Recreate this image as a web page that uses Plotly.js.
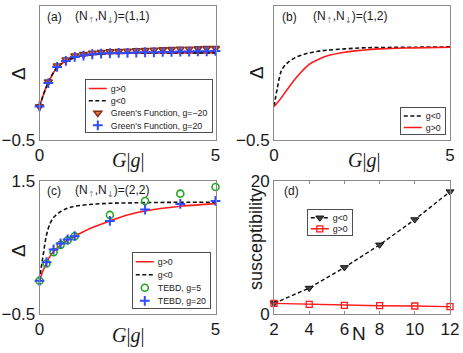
<!DOCTYPE html>
<html>
<head>
<meta charset="utf-8">
<script src="https://cdn.plot.ly/plotly-3.0.1.min.js"></script>
<style>
  html, body { margin: 0; padding: 0; background: #fff; }
  #chart { width: 463px; height: 353px; }
</style>
</head>
<body>
<div id="chart"></div>
<script>
// ---- panel (a): (N_up, N_down) = (1,1) ----
const gLineA = [0, 0.1, 0.2, 0.3, 0.4, 0.5, 0.6, 0.8, 1, 1.25, 1.5, 2, 2.5, 3, 4, 5];
const deltaA = [0, 0.16, 0.30, 0.41, 0.51, 0.58, 0.63, 0.69, 0.73, 0.76, 0.775, 0.79, 0.795, 0.80, 0.80, 0.80];
const gGreen = [0, 0.25, 0.5, 0.75, 1, 1.25, 1.5, 1.75, 2, 2.25, 2.5, 2.75, 3, 3.25, 3.5, 3.75, 4, 4.25, 4.5, 4.75, 5];
const greenNeg20 = [0, 0.37, 0.61, 0.70, 0.76, 0.78, 0.80, 0.81, 0.82, 0.825, 0.83, 0.835, 0.84, 0.845, 0.85, 0.855, 0.86, 0.86, 0.865, 0.87, 0.87];
const greenPos20 = [0, 0.35, 0.59, 0.68, 0.74, 0.76, 0.78, 0.79, 0.795, 0.80, 0.80, 0.805, 0.81, 0.81, 0.815, 0.815, 0.82, 0.82, 0.825, 0.825, 0.83];

// ---- panel (b): (1,2) ----
const gLineB = [0, 0.1, 0.2, 0.3, 0.4, 0.6, 0.8, 1, 1.25, 1.5, 2, 2.5, 3, 4, 5];
const deltaBneg = [0, 0.29, 0.52, 0.61, 0.66, 0.73, 0.77, 0.80, 0.825, 0.84, 0.86, 0.875, 0.88, 0.885, 0.89];
const deltaBpos = [0, 0.06, 0.125, 0.20, 0.27, 0.41, 0.53, 0.63, 0.70, 0.755, 0.81, 0.84, 0.86, 0.875, 0.885];

// ---- panel (c): (2,2) ----
const gLineC = [0, 0.05, 0.1, 0.2, 0.3, 0.4, 0.6, 0.8, 1, 1.5, 2, 2.5, 3, 4, 5];
const deltaCneg = [0, 0.20, 0.37, 0.69, 0.86, 0.95, 1.04, 1.09, 1.12, 1.15, 1.165, 1.17, 1.175, 1.18, 1.18];
const deltaCpos = [0, 0.08, 0.15, 0.27, 0.37, 0.44, 0.54, 0.61, 0.67, 0.80, 0.90, 0.99, 1.05, 1.12, 1.16];
const gTebd = [0, 0.2, 0.4, 0.6, 0.8, 1, 2, 3, 4, 5];
const tebd5 = [0, 0.26, 0.43, 0.54, 0.61, 0.67, 0.99, 1.20, 1.31, 1.41];
const tebd20 = [0, 0.28, 0.47, 0.56, 0.62, 0.67, 0.90, 1.07, 1.155, 1.20];

// ---- panel (d): susceptibility vs N ----
const nVals = [2, 4, 6, 8, 10, 12];
const suscNeg = [1.6, 3.9, 7.0, 10.4, 14.2, 18.4];
const suscPos = [1.6, 1.45, 1.3, 1.25, 1.2, 1.1];

const RED = '#ff1a1a';
const BLACK = '#111111';
const FRAME = '#8a8a8a';
const dash = '4px,2.5px';

function redLine(x, y, xa, ya, leg) {
    return { x: x, y: y, xaxis: xa, yaxis: ya, legend: leg, type: 'scatter', mode: 'lines',
        line: { color: RED, width: 1.6, shape: 'spline' }, name: 'g>0', cliponaxis: false };
}
function dashLine(x, y, xa, ya, leg) {
    return { x: x, y: y, xaxis: xa, yaxis: ya, legend: leg, type: 'scatter', mode: 'lines',
        line: { color: BLACK, width: 1.6, dash: dash, shape: 'spline' }, name: 'g<0', cliponaxis: false };
}

const traces = [
    // (a)
    redLine(gLineA, deltaA, 'x', 'y', 'legend'),
    dashLine(gLineA, deltaA, 'x', 'y', 'legend'),
    { x: gGreen, y: greenNeg20, xaxis: 'x', yaxis: 'y', legend: 'legend', type: 'scatter', mode: 'markers',
      name: "Green's Function, g=\u221220", cliponaxis: false,
      marker: { symbol: 'triangle-down', size: 7, color: '#e07a45', line: { color: '#8b2a12', width: 1.4 } } },
    { x: gGreen, y: greenPos20, xaxis: 'x', yaxis: 'y', legend: 'legend', type: 'scatter', mode: 'markers',
      name: "Green's Function, g=20", cliponaxis: false,
      marker: { symbol: 'cross-thin', size: 7, line: { color: '#2f4bff', width: 2 } } },
    // (b)
    dashLine(gLineB, deltaBneg, 'x2', 'y2', 'legend2'),
    redLine(gLineB, deltaBpos, 'x2', 'y2', 'legend2'),
    // (c)
    redLine(gLineC, deltaCpos, 'x3', 'y3', 'legend3'),
    dashLine(gLineC, deltaCneg, 'x3', 'y3', 'legend3'),
    { x: gTebd, y: tebd5, xaxis: 'x3', yaxis: 'y3', legend: 'legend3', type: 'scatter', mode: 'markers',
      name: 'TEBD, g=5', cliponaxis: false,
      marker: { symbol: 'circle-open', size: 7, color: '#22a822', line: { width: 1.6 } } },
    { x: gTebd, y: tebd20, xaxis: 'x3', yaxis: 'y3', legend: 'legend3', type: 'scatter', mode: 'markers',
      name: 'TEBD, g=20', cliponaxis: false,
      marker: { symbol: 'cross-thin', size: 7, line: { color: '#2f4bff', width: 2 } } },
    // (d)
    { x: nVals, y: suscNeg, xaxis: 'x4', yaxis: 'y4', legend: 'legend4', type: 'scatter', mode: 'lines+markers',
      name: 'g<0', cliponaxis: false,
      line: { color: BLACK, width: 1.4, dash: dash },
      marker: { symbol: 'triangle-down', size: 7, color: '#444', line: { color: BLACK, width: 1 } } },
    { x: nVals, y: suscPos, xaxis: 'x4', yaxis: 'y4', legend: 'legend4', type: 'scatter', mode: 'lines+markers',
      name: 'g>0', cliponaxis: false,
      line: { color: RED, width: 1.4 },
      marker: { symbol: 'square-open', size: 6, color: RED, line: { width: 1.3 } } }
];

const W = 463, H = 353;
const px = v => v / W;
const py = v => 1 - v / H;

const tickFont = { family: 'Liberation Sans, Arial, sans-serif', size: 17, color: '#1a1a1a' };

function axis(dom, vals, range, anchor) {
    return {
        domain: dom, range: range, tickvals: vals, anchor: anchor,
        showline: true, mirror: 'ticks', linecolor: FRAME, linewidth: 1,
        ticks: 'inside', ticklen: 3, tickcolor: FRAME,
        showgrid: false, zeroline: false, tickfont: tickFont, fixedrange: true
    };
}

const xLeft = [px(39.5), px(215.5)];
const xRight = [px(274), px(450)];
const yTop = [py(140), py(6)];
const yBot = [py(314), py(181)];

const LEG_BW = 0.8;
const legendBase = {
    bgcolor: '#ffffff', bordercolor: '#222', borderwidth: LEG_BW,
    font: { family: 'Liberation Sans, Arial, sans-serif', size: 8.8, color: '#222' },
    itemwidth: 30, tracegroupgap: 0, xanchor: 'left', yanchor: 'top'
};

const arrowStyle = c => "<sub><span style='color:" + c + ";font-family:DejaVu Sans'>";
const nLabel = pair => '(N' + arrowStyle('#9a9a9a') + '\u2191</span></sub>,N' +
    arrowStyle('#6a6a6a') + '\u2193</span></sub>)=' + pair;

const labelFont = { family: 'Liberation Sans, Arial, sans-serif', size: 12, color: '#1a1a1a' };
const serif = { family: 'Liberation Serif, Times New Roman, serif', size: 20, color: '#1a1a1a' };
const bigSans = { family: 'Liberation Sans, Arial, sans-serif', size: 19, color: '#1a1a1a' };

function note(x, y, text, font, extra) {
    return Object.assign({ x: px(x), y: py(y), xref: 'paper', yref: 'paper', text: text,
        showarrow: false, font: font, xanchor: 'center', yanchor: 'middle' }, extra || {});
}
const xTitle = '<i>G</i>|<i>g</i>|';

const layout = {
    width: W, height: H,
    margin: { l: 0, r: 0, t: 0, b: 0 },
    paper_bgcolor: '#fff', plot_bgcolor: '#fff',
    font: { family: 'Liberation Sans, Arial, sans-serif', color: '#1a1a1a' },
    showlegend: true,
    xaxis: axis(xLeft, [0, 5], [0, 5], 'y'),
    yaxis: axis(yTop, [-0.5, 1.5], [-0.5, 1.5], 'x'),
    xaxis2: axis(xRight, [0, 5], [0, 5], 'y2'),
    yaxis2: axis(yTop, [-0.5, 1.5], [-0.5, 1.5], 'x2'),
    xaxis3: axis(xLeft, [0, 5], [0, 5], 'y3'),
    yaxis3: axis(yBot, [-0.5, 1.5], [-0.5, 1.5], 'x3'),
    xaxis4: axis(xRight, [2, 4, 6, 8, 10, 12], [2, 12], 'y4'),
    yaxis4: axis(yBot, [0, 20], [0, 20], 'x4'),
    legend: Object.assign({}, legendBase, { x: px(85), y: py(79) }),
    legend2: Object.assign({}, legendBase, { x: px(400), y: py(107) }),
    legend3: Object.assign({}, legendBase, { x: px(132), y: py(252) }),
    legend4: Object.assign({}, legendBase, { x: px(307), y: py(209) }),
    annotations: [
        note(45, 17, '(a)', labelFont, { xanchor: 'left' }),
        note(73, 17, nLabel('(1,1)'), labelFont, { xanchor: 'left' }),
        note(280, 17, '(b)', labelFont, { xanchor: 'left' }),
        note(311, 17, nLabel('(1,2)'), labelFont, { xanchor: 'left' }),
        note(45, 191, '(c)', labelFont, { xanchor: 'left' }),
        note(73, 191, nLabel('(2,2)'), labelFont, { xanchor: 'left' }),
        note(282, 191, '(d)', labelFont, { xanchor: 'left' }),
        note(18, 74, '\u0394', bigSans, { textangle: -90 }),
        note(256, 73, '\u0394', bigSans, { textangle: -90 }),
        note(18, 251, '\u0394', bigSans, { textangle: -90 }),
        note(128, 160, xTitle, serif),
        note(364, 160, xTitle, serif),
        note(128, 335, xTitle, serif),
        note(256, 239, 'susceptibility', { family: 'Liberation Sans, Arial, sans-serif', size: 18, color: '#1a1a1a' }, { textangle: -90 }),
        note(359, 333, 'N', bigSans)
    ]
};

// Plotly's legend rows are at least 19px tall; the figure packs them tighter,
// so pull the rows together and shorten the key lines after drawing.
// Everything is set absolutely, so running it again is harmless.
const TEXT_X = 25;
const LEGEND_STEP = { legend: 12.3, legend2: 11.5, legend3: 13, legend4: 11 };

function tightenLegends() {
    document.querySelectorAll('.infolayer .scrollbox').forEach(sb => {
        const box = sb.parentNode;
        const id = (box.getAttribute('class') || '').split(' ')[0];
        const step = LEGEND_STEP[id] || 12;
        const items = sb.querySelectorAll('.traces');
        let maxW = 0;
        items.forEach((item, i) => {
            item.setAttribute('transform', 'translate(' + LEG_BW + ',' + (LEG_BW + 2.5 + step * (i + 0.5)) + ')');
            const text = item.querySelector('.legendtext') || item.querySelector('text');
            if (text) {
                const bb = text.getBBox();
                if (!text.dataset.x0) text.dataset.x0 = bb.x;
                text.setAttribute('transform', 'translate(' + (TEXT_X - text.dataset.x0) + ',0)');
                maxW = Math.max(maxW, bb.width);
            }
            item.querySelectorAll('.legendlines path').forEach(p => p.setAttribute('d', 'M3,0h18'));
            item.querySelectorAll('.legendpoints path').forEach(p => p.setAttribute('transform', 'translate(12,0)'));
        });
        const bg = box.querySelector('rect.bg');
        if (bg && items.length) {
            bg.setAttribute('height', items.length * step + 4);
            bg.setAttribute('width', TEXT_X + maxW + 5);
        }
    });
}

Plotly.newPlot('chart', traces, layout, { displayModeBar: false, staticPlot: true }).then(() => {
    tightenLegends();
    [0, 50, 150, 400].forEach(t => setTimeout(tightenLegends, t));
});
</script>
</body>
</html>
